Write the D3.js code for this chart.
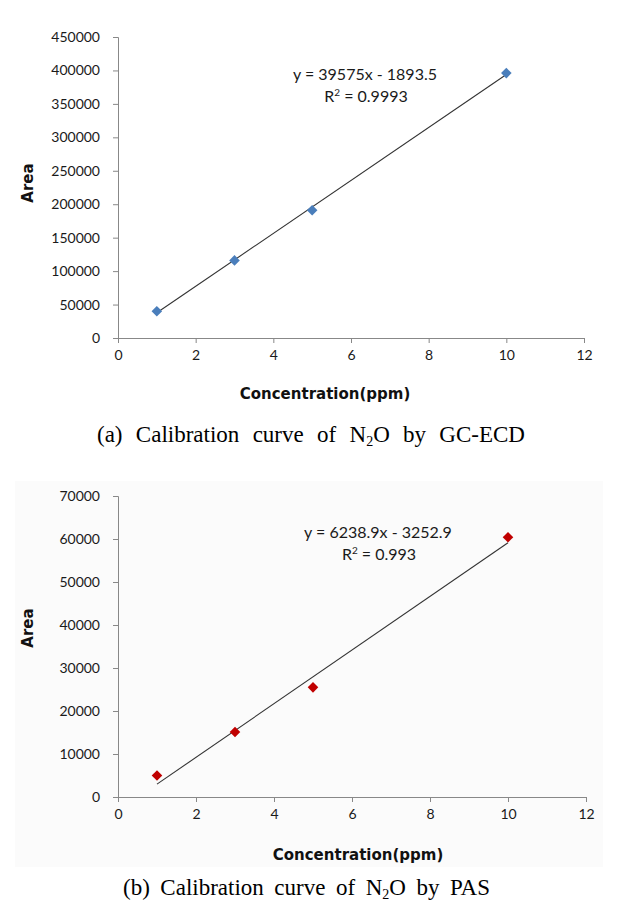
<!DOCTYPE html>
<html><head><meta charset="utf-8">
<script src="https://cdn.jsdelivr.net/npm/d3@7"></script>
<style>body{margin:0;background:#fff}</style>
</head><body>
<script>
const concA = [1, 3, 5, 10];
const areaA = [40000, 116000, 191000, 396000];
const fitA = {slope: 39575, intercept: -1893.5, label: "y = 39575x - 1893.5", r2: "0.9993"};
const yTicksA = [0, 50000, 100000, 150000, 200000, 250000, 300000, 350000, 400000, 450000];

const concB = [1, 3, 5, 10];
const areaB = [5000, 15100, 25500, 60400];
const fitB = {slope: 6238.9, intercept: -3252.9, label: "y = 6238.9x - 3252.9", r2: "0.993"};
const yTicksB = [0, 10000, 20000, 30000, 40000, 50000, 60000, 70000];

const xTicks = [0, 2, 4, 6, 8, 10, 12];
const xTitle = "Concentration(ppm)";
const yTitle = "Area";
const captionA = ["(a)", "Calibration", "curve", "of", "N₂O", "by", "GC-ECD"];
const captionB = ["(b)", "Calibration", "curve", "of", "N₂O", "by", "PAS"];

const W = 618, H = 913;
const svg = d3.select("body").append("svg").attr("width", W).attr("height", H);

const tickFont = "Lato, 'Open Sans', sans-serif";
const boldFont = "'DejaVu Sans', Verdana, sans-serif";

function panel(o) {
  const g = svg.append("g");
  if (o.bg) g.append("rect").attr("x", o.bg[0]).attr("y", o.bg[1]).attr("width", o.bg[2]).attr("height", o.bg[3]).attr("fill", "#fbfbfb");
  const x = d3.scaleLinear().domain([0, 12]).range([o.x0, o.x1]);
  const y = d3.scaleLinear().domain([0, o.yTicks[o.yTicks.length - 1]]).range([o.y0, o.y1]);

  const ya = g.append("g").attr("transform", `translate(${o.x0},0)`)
    .call(d3.axisLeft(y).tickValues(o.yTicks).tickSize(5).tickPadding(13).tickFormat(d3.format("d")));
  const xa = g.append("g").attr("transform", `translate(0,${o.y0})`)
    .call(d3.axisBottom(x).tickValues(xTicks).tickSize(5).tickPadding(7).tickFormat(d3.format("d")));
  [ya, xa].forEach(a => {
    a.select(".domain").attr("stroke", "#888").attr("stroke-width", 1);
    a.selectAll(".tick line").attr("stroke", "#888");
    a.selectAll("text").attr("font-family", tickFont).attr("font-size", 14).attr("fill", "#1a1a1a");
  });

  // trendline
  const xr = d3.extent(o.cx);
  g.append("line")
    .attr("x1", x(xr[0])).attr("y1", y(o.fit.slope * xr[0] + o.fit.intercept))
    .attr("x2", x(xr[1])).attr("y2", y(o.fit.slope * xr[1] + o.fit.intercept))
    .attr("stroke", "#333").attr("stroke-width", 1.1);

  // markers (diamonds)
  const sym = d3.symbol().type(d3.symbolSquare).size(56);
  g.selectAll("path.pt").data(o.cx.map((c, i) => [c, o.cy[i]])).enter().append("path")
    .attr("class", "pt").attr("d", sym)
    .attr("transform", d => `translate(${x(d[0])},${y(d[1])}) rotate(45)`)
    .attr("fill", o.color);

  // equation
  g.append("text").attr("x", o.eq[0]).attr("y", o.eq[1]).attr("text-anchor", "middle")
    .attr("font-family", tickFont).attr("font-size", 16).attr("fill", "#1a1a1a").text(o.fit.label);
  const r = g.append("text").attr("x", o.eq[0] + 1).attr("y", o.eq[1] + 22).attr("text-anchor", "middle")
    .attr("font-family", tickFont).attr("font-size", 16).attr("fill", "#1a1a1a");
  r.append("tspan").text("R");
  r.append("tspan").attr("font-size", 10).attr("dy", -6).text("2");
  r.append("tspan").attr("dy", 6).text(" = " + o.fit.r2);

  // axis titles
  g.append("text").attr("transform", `translate(${o.yt[0]},${o.yt[1]}) rotate(-90)`)
    .attr("text-anchor", "middle").attr("font-family", boldFont).attr("font-weight", "bold")
    .attr("font-size", 15).attr("fill", "#111").text(yTitle);
  g.append("text").attr("x", o.xt[0]).attr("y", o.xt[1]).attr("text-anchor", "middle")
    .attr("font-family", boldFont).attr("font-weight", "bold")
    .attr("font-size", 15).attr("fill", "#111").text(xTitle);

  // caption, word spacing fitted to the caption's width in the reference
  const c = g.append("text").attr("x", o.cap[0]).attr("y", o.cap[1])
    .attr("font-family", "'Liberation Serif', 'Times New Roman', serif").attr("font-size", 23)
    .attr("fill", "#000");
  o.caption.forEach((w, i) => {
    const sp = i > 0 ? " " : "";
    if (w === "N₂O") {
      c.append("tspan").text(sp + "N");
      c.append("tspan").attr("font-size", 14).attr("dy", 4).text("2");
      c.append("tspan").attr("dy", -4).text("O");
    } else c.append("tspan").text(sp + w);
  });
  const len = c.node().getComputedTextLength();
  c.attr("word-spacing", Math.max(0, (o.cap[2] - len) / (o.caption.length - 1)));
}

panel({x0: 118, x1: 584, y0: 338, y1: 37, yTicks: yTicksA, cx: concA, cy: areaA, fit: fitA,
  color: "#4a7ebb", eq: [365, 80], yt: [33, 183], xt: [325, 399], cap: [97, 442, 428], caption: captionA});
panel({x0: 118, x1: 586, y0: 797, y1: 496, yTicks: yTicksB, cx: concB, cy: areaB, fit: fitB,
  color: "#c00000", eq: [378, 538], yt: [33, 628], xt: [358, 860], cap: [123, 895, 367], caption: captionB,
  bg: [15, 481, 588, 386]});
</script>
</body></html>
